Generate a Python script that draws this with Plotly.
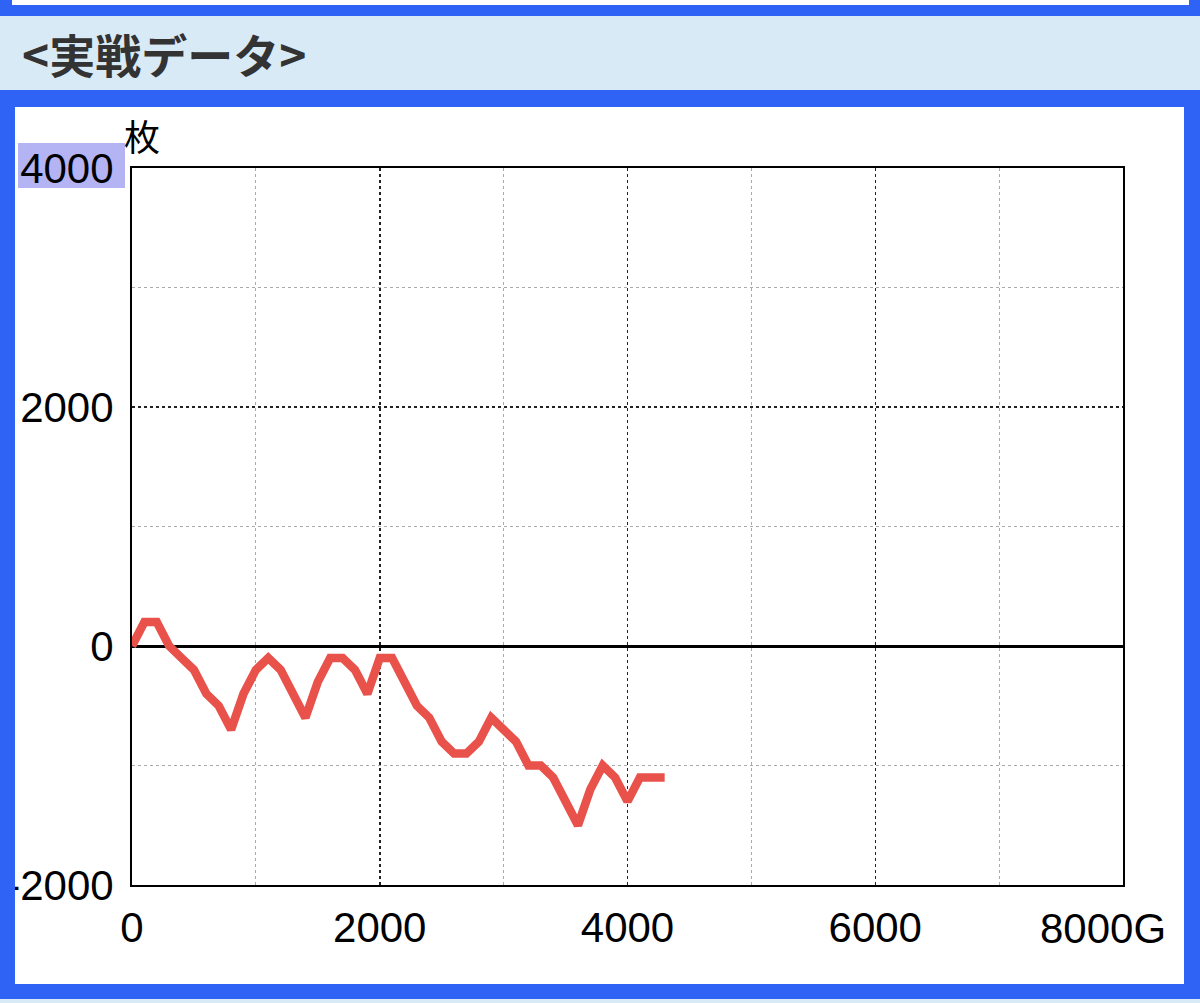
import plotly.graph_objects as go

# Data
games = [0, 100, 200, 300, 400, 500, 600, 700, 800, 900, 1000, 1100, 1200, 1300, 1400,
         1500, 1600, 1700, 1800, 1900, 2000, 2100, 2200, 2300, 2400, 2500, 2600, 2700,
         2800, 2900, 3000, 3100, 3200, 3300, 3400, 3500, 3600, 3700, 3800, 3900, 4000,
         4100, 4200, 4300]
coins = [0, 200, 200, 0, -100, -200, -400, -500, -700, -400, -200, -100, -200, -400, -600,
         -300, -100, -100, -200, -400, -100, -100, -300, -500, -600, -800, -900, -900,
         -800, -600, -700, -800, -1000, -1000, -1100, -1300, -1500, -1200, -1000, -1100, -1300,
         -1100, -1100, -1100]

x_tickvals = [0, 2000, 4000, 6000]
x_ticktext = ["0", "2000", "4000", "6000"]
x_minor = [1000, 3000, 5000, 7000]
x_last_val = 8000
x_last_text = "8000G"
y_tickvals = [-2000, 0, 2000, 4000]
y_ticktext = ["-2000", "0", "2000", "4000"]
y_minor = [-1000, 1000, 3000]

title_text = "<実戦データ>"
unit_text = "枚"

BLUE = "#2f63f6"
LIGHT = "#d9eaf7"
RED = "#e9514b"
W, H = 1200, 1003
L, R, T, B = 132, 77, 168, 118

fig = go.Figure()
fig.add_trace(go.Scatter(x=games, y=coins, mode="lines",
                         line=dict(color=RED, width=8.5), hoverinfo="skip",
                         showlegend=False))

tick_font = dict(family="Liberation Sans, Arial, sans-serif", size=42, color="#000")

fig.update_xaxes(range=[0, 8000], tickvals=x_tickvals, ticktext=x_ticktext,
                 tickfont=tick_font, ticks="", ticklabelstandoff=5,
                 ticklabeloverflow="allow", automargin=False,
                 showgrid=True, gridcolor="#222", griddash="dot", gridwidth=1.5,
                 minor=dict(tickvals=x_minor, showgrid=True, gridcolor="#aaa", griddash="dot", gridwidth=1),
                 showline=True, linecolor="#000", linewidth=2, mirror=True,
                 zeroline=False, fixedrange=True)
fig.update_yaxes(range=[-2000, 4000], tickvals=y_tickvals, ticktext=y_ticktext,
                 tickfont=tick_font, ticks="", ticklabelstandoff=8,
                 ticklabeloverflow="allow", automargin=False,
                 showgrid=True, gridcolor="#222", griddash="dot", gridwidth=1.5,
                 minor=dict(tickvals=y_minor, showgrid=True, gridcolor="#aaa", griddash="dot", gridwidth=1),
                 showline=True, linecolor="#000", linewidth=2, mirror=True,
                 zeroline=True, zerolinecolor="#000", zerolinewidth=3, fixedrange=True)

pw = W - L - R
ph = H - T - B
def px_x(p):
    return (p - L) / pw
def px_y(p):
    return (H - B - p) / ph

shapes = [
    dict(type="rect", xref="paper", yref="paper", x0=px_x(0), x1=px_x(W), y0=px_y(90), y1=px_y(16),
         fillcolor=LIGHT, line=dict(width=0), layer="below"),
    dict(type="rect", xref="paper", yref="paper", x0=px_x(12), x1=px_x(1189), y0=px_y(5), y1=px_y(0),
         fillcolor="#fff", line=dict(width=0), layer="below"),
    dict(type="rect", xref="paper", yref="paper", x0=px_x(15), x1=px_x(1184), y0=px_y(984), y1=px_y(107),
         fillcolor="#fff", line=dict(width=0), layer="below"),
    dict(type="rect", xref="paper", yref="paper", x0=px_x(0), x1=px_x(W), y0=px_y(H), y1=px_y(999),
         fillcolor=LIGHT, line=dict(width=0), layer="below"),
    dict(type="rect", xref="paper", yref="paper", x0=px_x(18), x1=px_x(125), y0=px_y(188), y1=px_y(143),
         fillcolor="#b4b4f5", line=dict(width=0), layer="below"),
    dict(type="rect", xref="paper", yref="paper", x0=px_x(0), x1=px_x(15), y0=px_y(984), y1=px_y(107),
         fillcolor=BLUE, line=dict(width=0), layer="above"),
]

fig.update_layout(
    width=W, height=H,
    margin=dict(l=L, r=R, t=T, b=B, autoexpand=False),
    paper_bgcolor=BLUE, plot_bgcolor="#fff",
    shapes=shapes,
    title=dict(text=title_text, xref="container", yref="container", automargin=False,
               x=22 / W, xanchor="left", y=1 - 57 / H, yanchor="middle",
               font=dict(family="Noto Sans CJK JP", size=46, color="#333", weight="bold")),
    annotations=[
        dict(text=unit_text, xref="paper", yref="paper", x=px_x(142), y=px_y(135),
             xanchor="center", yanchor="middle", showarrow=False,
             font=dict(family="Noto Sans CJK JP", size=36, color="#000")),
        dict(text=x_last_text, xref="x", yref="paper", x=x_last_val, y=px_y(928),
             xanchor="right", yanchor="middle", xshift=45, showarrow=False,
             font=tick_font),
    ],
)

fig.write_html("out.html", config={"displayModeBar": False, "staticPlot": True},
               post_script="document.body.style.margin='0';document.body.style.overflow='hidden';")
